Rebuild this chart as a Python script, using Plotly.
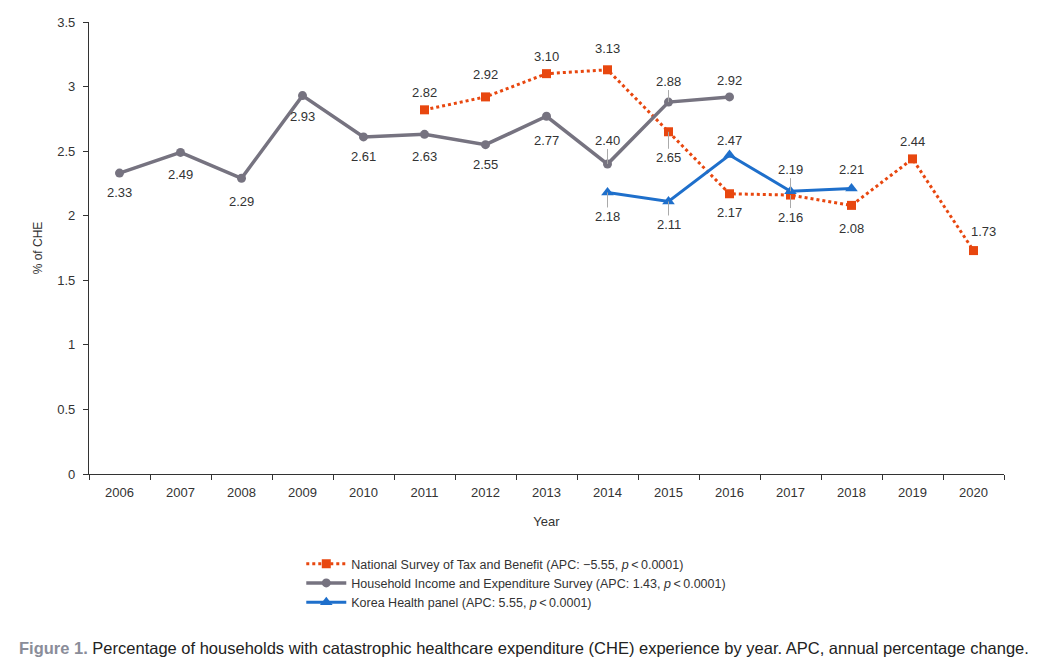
import plotly.graph_objects as go

years = [str(y) for y in range(2006, 2021)]

nstb_years = ["2011", "2012", "2013", "2014", "2015", "2016", "2017", "2018", "2019", "2020"]
nstb_vals = [2.82, 2.92, 3.10, 3.13, 2.65, 2.17, 2.16, 2.08, 2.44, 1.73]

hies_years = ["2006", "2007", "2008", "2009", "2010", "2011", "2012", "2013", "2014", "2015", "2016"]
hies_vals = [2.33, 2.49, 2.29, 2.93, 2.61, 2.63, 2.55, 2.77, 2.40, 2.88, 2.92]

khp_years = ["2014", "2015", "2016", "2017", "2018"]
khp_vals = [2.18, 2.11, 2.47, 2.19, 2.21]

# label offsets in pixels (dx, dy), and whether a leader line is drawn
nstb_off = [(0, -17), (0, -22), (0, -17), (0, -21), (0, 26, True), (0, 19), (0, 22, True), (0, 23), (0, -17), (10, -19)]
hies_off = [(0, 19), (0, 22), (0, 23), (0, 21), (0, 20), (0, 22), (0, 20), (0, 24), (0, -24, True), (0, -21, True), (0, -16)]
khp_off = [(0, 24, True), (0, 23, True), (0, -15), (0, -22, True), (0, -19)]

ORANGE = "#E8470F"
GRAY = "#767380"
BLUE = "#1E6FCB"
TXT = "#333333"
FONT = "Liberation Sans"

fig = go.Figure()
fig.add_trace(go.Scatter(
    x=nstb_years, y=nstb_vals, mode="lines+markers",
    name="National Survey of Tax and Benefit (APC: \u22125.55, <i>p</i>\u2009&lt;\u20090.0001)",
    line=dict(color=ORANGE, width=3, dash="dot"),
    marker=dict(symbol="square", size=9, color=ORANGE)))
fig.add_trace(go.Scatter(
    x=hies_years, y=hies_vals, mode="lines+markers",
    name="Household Income and Expenditure Survey (APC: 1.43, <i>p</i>\u2009&lt;\u20090.0001)",
    line=dict(color=GRAY, width=3.5),
    marker=dict(symbol="circle", size=9, color=GRAY)))
fig.add_trace(go.Scatter(
    x=khp_years, y=khp_vals, mode="lines+markers",
    name="Korea Health panel (APC: 5.55, <i>p</i>\u2009&lt;\u20090.0001)",
    line=dict(color=BLUE, width=3),
    marker=dict(symbol="triangle-up", size=11, color=BLUE)))

annotations = []
for xs, vs, offs in [(nstb_years, nstb_vals, nstb_off), (hies_years, hies_vals, hies_off), (khp_years, khp_vals, khp_off)]:
    for x, v, o in zip(xs, vs, offs):
        xi = years.index(x)
        dx, dy = o[0], o[1]
        lead = len(o) > 2 and o[2]
        if lead:
            annotations.append(dict(
                x=xi, y=v, xref="x", yref="y", text=f"{v:.2f}",
                showarrow=True, ax=dx, ay=dy, arrowhead=0, arrowwidth=1,
                arrowcolor="#aaaaaa", standoff=0,
                font=dict(family=FONT, size=13, color=TXT)))
        else:
            annotations.append(dict(
                x=xi, y=v, xref="x", yref="y", text=f"{v:.2f}",
                showarrow=False, xshift=dx, yshift=-dy,
                font=dict(family=FONT, size=13, color=TXT)))

annotations.append(dict(
    xref="paper", yref="paper", x=-0.079, y=-0.385, xanchor="left", yanchor="middle",
    showarrow=False,
    text="<b><span style='color:#8a8d99'>Figure 1.</span></b> Percentage of households with catastrophic healthcare expenditure (CHE) experience by year. APC, annual percentage change.",
    font=dict(family=FONT, size=16.5, color="#222222")))

fig.update_layout(
    width=1031, height=659,
    margin=dict(l=81, r=35, t=14, b=193, autoexpand=False),
    paper_bgcolor="white", plot_bgcolor="white",
    font=dict(family=FONT, size=13, color=TXT),
    showlegend=True,
    legend=dict(x=0.232, y=-0.166, xanchor="left", yanchor="top",
                font=dict(family=FONT, size=12.5, color=TXT),
                tracegroupgap=0, itemwidth=40, bgcolor="rgba(0,0,0,0)"),
    annotations=annotations,
)
fig.update_xaxes(
    type="category", categoryorder="array", categoryarray=years,
    tickson="boundaries", ticks="outside", ticklen=5, tickcolor="#333",
    showline=True, linecolor="#333", linewidth=1.2, showgrid=False,
    tickfont=dict(family=FONT, size=13, color=TXT), ticklabelstandoff=6,
    title=dict(text="Year", font=dict(family=FONT, size=13, color=TXT), standoff=18),
    range=[-0.5, 14.5], automargin=False)
fig.update_yaxes(
    range=[0, 3.5], tickvals=[0, 0.5, 1, 1.5, 2, 2.5, 3, 3.5],
    ticktext=["0", "0.5", "1", "1.5", "2", "2.5", "3", "3.5"],
    ticks="outside", ticklen=5, tickcolor="#333",
    showline=True, linecolor="#333", linewidth=1.2, showgrid=False, zeroline=False,
    tickfont=dict(family=FONT, size=13, color=TXT), ticklabelstandoff=5,
    title=dict(text="% of CHE", font=dict(family=FONT, size=12, color=TXT), standoff=12),
    automargin=False)

fig.write_html("out.html")
